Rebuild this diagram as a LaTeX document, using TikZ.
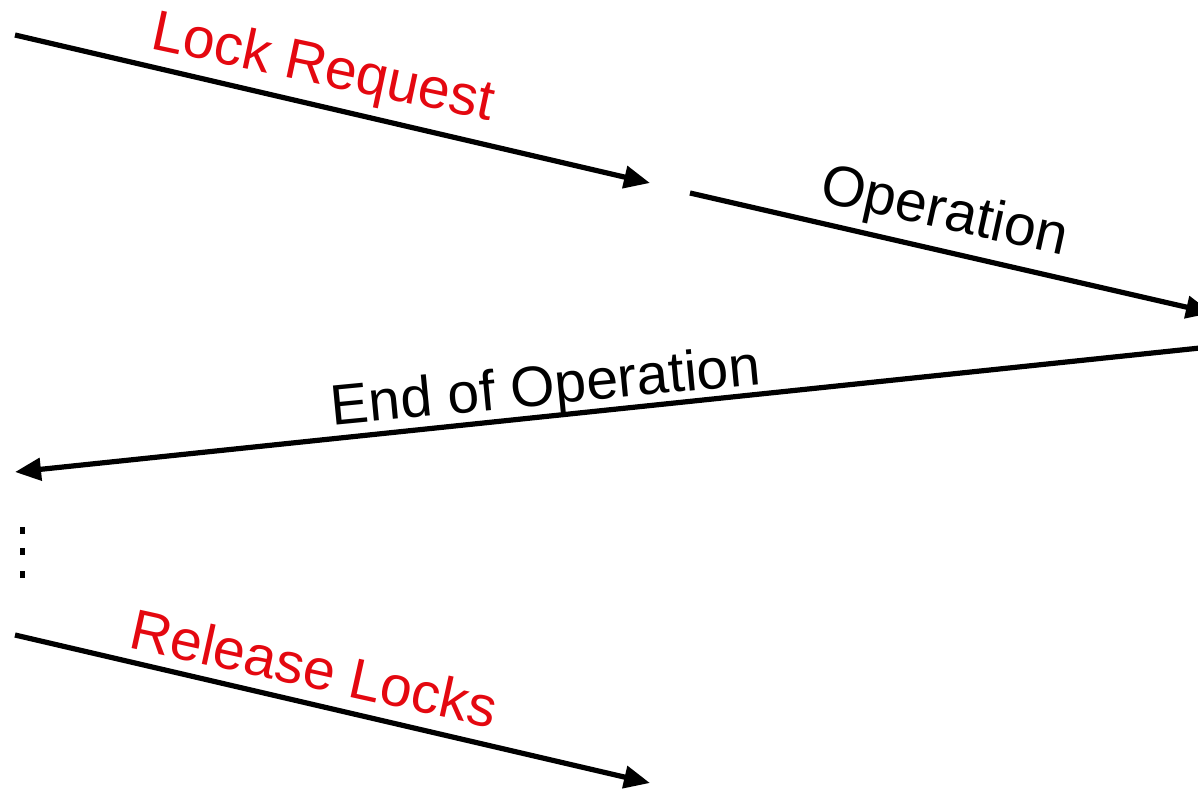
\documentclass[tikz,border=0pt]{standalone}
\usepackage{fontspec}
\setmainfont{Liberation Sans}
\usetikzlibrary{arrows.meta}
\definecolor{lblred}{RGB}{228,8,16}
\tikzset{
  msg/.style={line width=5.2pt, -{Triangle[length=26pt,width=22pt]}},
  lbl/.style={font=\fontsize{57}{62}\selectfont, inner sep=0pt},
  redlbl/.style={lbl, text=lblred},
  dotmark/.style={fill=black, minimum width=5pt, minimum height=7pt, inner sep=0pt},
}
\begin{document}
\begin{tikzpicture}[x=1pt,y=-1pt]
\useasboundingbox (0,0) rectangle (1198,790);
\clip (0,0) rectangle (1198,790);
% endpoints
\coordinate (a1) at (15,35);
\coordinate (b1) at (650,183);
\coordinate (a2) at (690,193);
\coordinate (b2) at (1212,313);
\coordinate (a3) at (1200,348);
\coordinate (b3) at (15,472);
\coordinate (a4) at (15,635);
\coordinate (b4) at (650,783);
% messages
\draw[msg] (a1) -- (b1);
\draw[msg] (a2) -- (b2);
\draw[msg] (a3) -- (b3);
\draw[msg] (a4) -- (b4);
% labels
\node[redlbl, rotate=-12] (l1) at (323,70) {Lock Request};
\node[lbl, rotate=-12.5] (l2) at (944,214) {Operation};
\node[lbl, rotate=5.5] (l3) at (546,390) {End of Operation};
\node[redlbl, rotate=-12.5] (l4) at (314,668) {Release Locks};
% ellipsis dots
\node[dotmark] (d1) at (22,530) {};
\node[dotmark] (d2) at (22,551) {};
\node[dotmark] (d3) at (22,574) {};
\end{tikzpicture}
\end{document}
